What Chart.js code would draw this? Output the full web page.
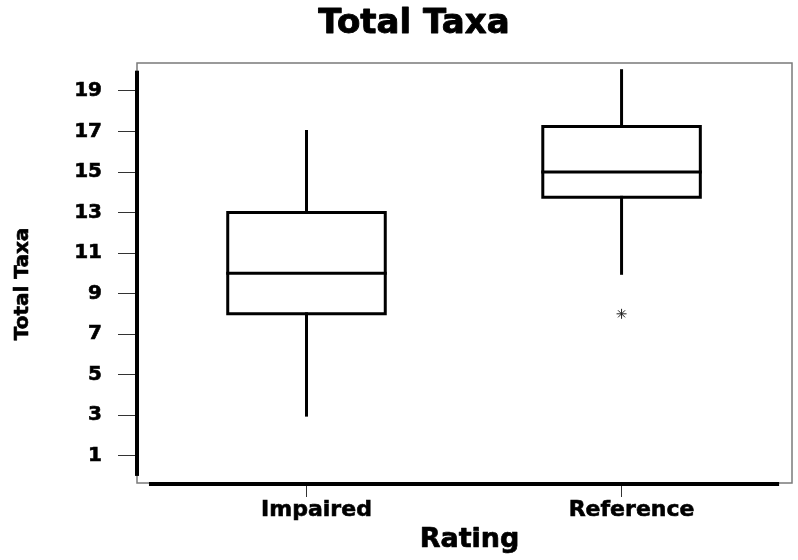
<!DOCTYPE html>
<html>
<head>
<meta charset="utf-8">
<title>Total Taxa</title>
<script src="https://cdn.jsdelivr.net/npm/chart.js@4.4.1/dist/chart.umd.min.js"></script>
<style>
  html, body { margin: 0; padding: 0; background: #fff; }
  canvas { display: block; }
</style>
</head>
<body>
<canvas id="boxChart" width="798" height="560"></canvas>
<script>
// ----------------- Data -----------------
const categories = ['Impaired', 'Reference'];
const whiskerLow = [3, 10];
const q1 = [8, 13.75];
const median = [10, 15];
const q3 = [13, 17.25];
const whiskerHigh = [17, 20];
const outliers = [[], [8]];
const yTicks = [1, 3, 5, 7, 9, 11, 13, 15, 17, 19];

// ----------------- Style -----------------
const FONT = "'DejaVu Sans', sans-serif";
const BOX_HALF = 0.25;
Chart.defaults.font.family = FONT;
Chart.defaults.color = '#000';

function lineSet(points) {
  return {
    data: points,
    showLine: true,
    borderColor: '#000',
    borderWidth: 3,
    borderCapStyle: 'square',
    borderJoinStyle: 'miter',
    pointRadius: 0,
    fill: false,
    tension: 0
  };
}

// ----------------- Datasets -----------------
const datasets = [];
categories.forEach((cat, i) => {
  const x = i + 1;
  datasets.push(lineSet([
    { x: x - BOX_HALF, y: q1[i] },
    { x: x + BOX_HALF, y: q1[i] },
    { x: x + BOX_HALF, y: q3[i] },
    { x: x - BOX_HALF, y: q3[i] },
    { x: x - BOX_HALF, y: q1[i] }
  ]));
  datasets.push(lineSet([{ x: x - BOX_HALF, y: median[i] }, { x: x + BOX_HALF, y: median[i] }]));
  datasets.push(lineSet([{ x: x, y: q3[i] }, { x: x, y: whiskerHigh[i] }]));
  datasets.push(lineSet([{ x: x, y: whiskerLow[i] }, { x: x, y: q1[i] }]));
});

const outlierPoints = [];
outliers.forEach((list, i) => list.forEach(v => outlierPoints.push({ x: i + 1, y: v })));
datasets.push({
  data: outlierPoints,
  showLine: false,
  pointStyle: 'star',
  pointRadius: 5,
  borderColor: '#222',
  borderWidth: 1
});

// ----------------- Plugins -----------------
const framePlugin = {
  id: 'frame',
  beforeDatasetsDraw(chart) {
    const { ctx, chartArea: a, scales: { x, y } } = chart;
    ctx.save();
    ctx.strokeStyle = '#7a7a7a';
    ctx.lineWidth = 1.5;
    ctx.strokeRect(a.left, a.top, a.right - a.left, a.bottom - a.top);
    ctx.fillStyle = '#000';
    // thick axis lines over the data range
    const yTop = y.getPixelForValue(20), yBot = y.getPixelForValue(0);
    ctx.fillRect(a.left - 2, yTop, 4, yBot - yTop);
    const xL = x.getPixelForValue(0.5), xR = x.getPixelForValue(2.5);
    ctx.fillRect(xL, a.bottom - 1, xR - xL, 4);
    ctx.restore();
  }
};

function heavyText(ctx, text, x, y) {
  ctx.fillText(text, x, y);
  ctx.strokeText(text, x, y);
}

const textPlugin = {
  id: 'texts',
  afterDraw(chart) {
    const { ctx, chartArea: a } = chart;
    ctx.save();
    ctx.fillStyle = '#000';
    ctx.strokeStyle = '#000';
    ctx.lineWidth = 0.9;
    ctx.lineJoin = 'round';
    ctx.textAlign = 'center';
    ctx.textBaseline = 'alphabetic';
    ctx.font = "bold 34px " + FONT;
    heavyText(ctx, 'Total Taxa', 414, 33);
    ctx.font = "bold 27px " + FONT;
    ctx.lineWidth = 0.7;
    heavyText(ctx, 'Rating', (a.left + a.right) / 2 + 5, 547);
    ctx.translate(28, 284);
    ctx.rotate(-Math.PI / 2);
    ctx.font = "bold 20px " + FONT;
    ctx.lineWidth = 0.6;
    heavyText(ctx, 'Total Taxa', 0, 0);
    ctx.restore();
  }
};

// ----------------- Chart -----------------
const ctx = document.getElementById('boxChart').getContext('2d');
new Chart(ctx, {
  type: 'scatter',
  data: { datasets },
  plugins: [framePlugin, textPlugin],
  options: {
    responsive: false,
    animation: false,
    layout: { padding: { top: 63, right: 4, bottom: 0, left: 0 } },
    plugins: {
      legend: { display: false },
      tooltip: { enabled: false }
    },
    scales: {
      x: {
        type: 'linear',
        min: 0.462,
        max: 2.541,
        afterBuildTicks: s => { s.ticks = categories.map((c, i) => ({ value: i + 1 })); },
        afterFit: s => { s.height = 77; },
        ticks: {
          callback: (v, i) => categories[i],
          font: { size: 22, weight: 'bold' },
          color: '#000',
          textStrokeColor: '#000',
          textStrokeWidth: 0.6,
          padding: 0,
          labelOffset: 10,
          maxRotation: 0
        },
        grid: { drawOnChartArea: false, drawTicks: true, tickLength: 14, color: '#333', lineWidth: 1 },
        border: { display: false }
      },
      y: {
        type: 'linear',
        min: -0.35,
        max: 20.38,
        afterBuildTicks: s => { s.ticks = yTicks.map(v => ({ value: v })); },
        afterFit: s => { s.width = 137; },
        ticks: {
          font: { size: 20, weight: 'bold' },
          color: '#000',
          textStrokeColor: '#000',
          textStrokeWidth: 0.6,
          padding: 16
        },
        grid: { drawOnChartArea: false, drawTicks: true, tickLength: 19, color: '#333', lineWidth: 1 },
        border: { display: false }
      }
    }
  }
});
</script>
</body>
</html>
